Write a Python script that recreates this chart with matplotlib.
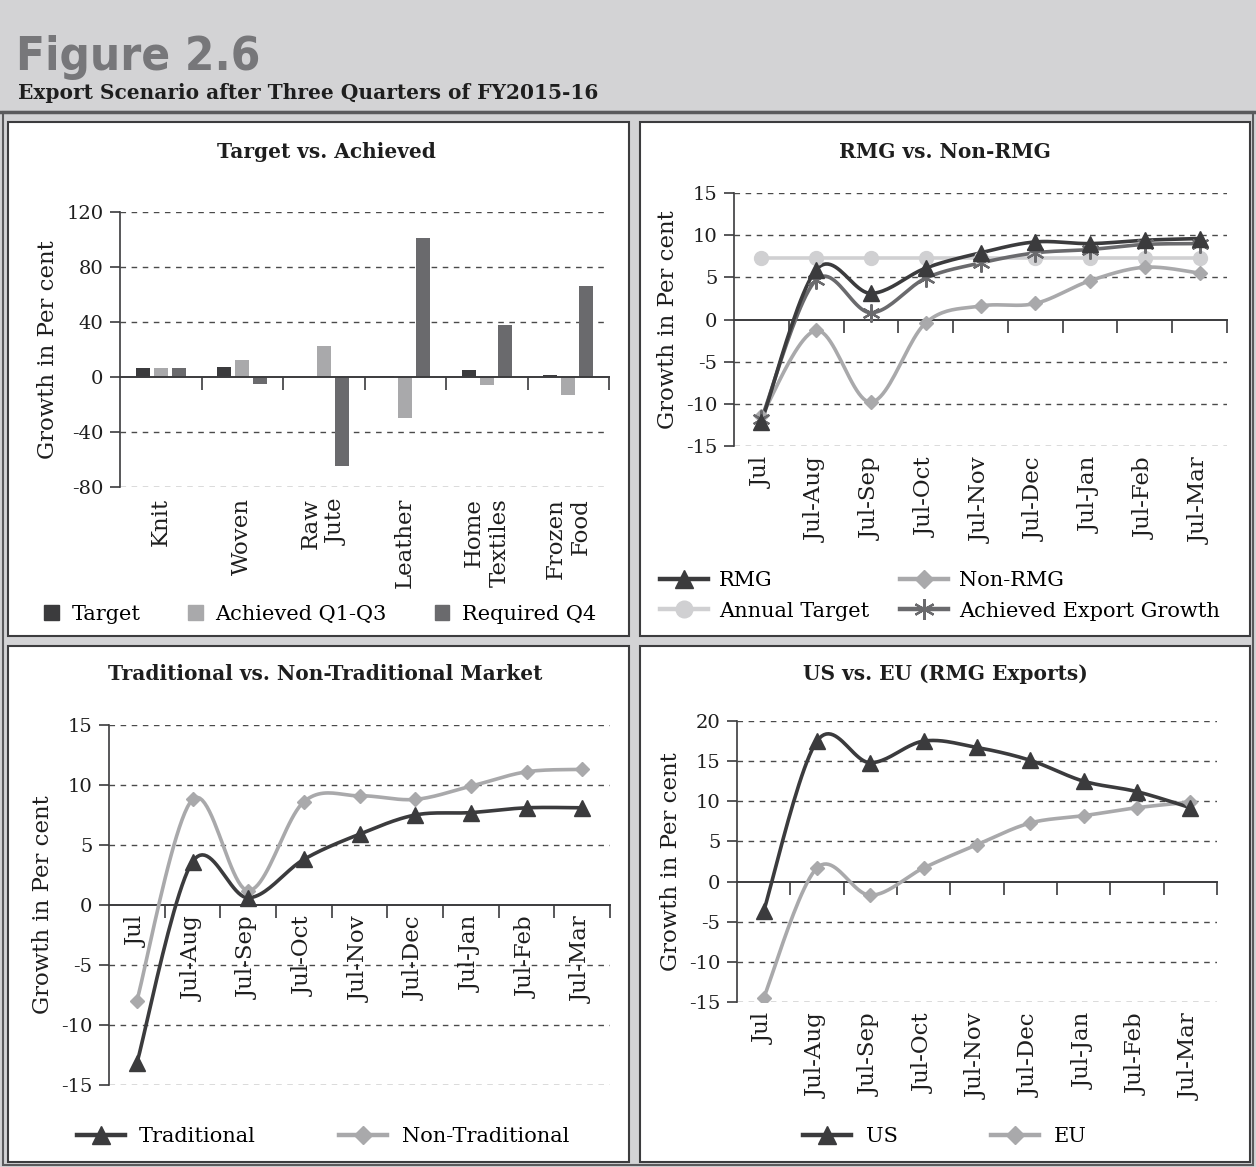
import numpy as np
import matplotlib
matplotlib.use("Agg")
import matplotlib.pyplot as plt
from matplotlib.patches import Rectangle
from matplotlib.lines import Line2D
from matplotlib.patches import Patch

# ---------------- data ----------------
products = ["Knit", "Woven", "Raw\nJute", "Leather", "Home\nTextiles", "Frozen\nFood"]
target = [6.5, 7.5, 0.0, 0.5, 5.0, 1.5]
achieved_q1_q3 = [6.5, 12.0, 22.5, -30.0, -6.0, -13.0]
required_q4 = [6.5, -5.0, -65.0, 101.0, 38.0, 66.0]

periods = ["Jul", "Jul-Aug", "Jul-Sep", "Jul-Oct", "Jul-Nov",
           "Jul-Dec", "Jul-Jan", "Jul-Feb", "Jul-Mar"]

rmg = [-12.2, 5.9, 3.1, 6.1, 7.9, 9.2, 9.0, 9.4, 9.6]
non_rmg = [-11.5, -1.3, -9.8, -0.4, 1.6, 1.9, 4.6, 6.2, 5.5]
annual_target = [7.3, 7.3, 7.3, 7.3, 7.3, 7.3, 7.3, 7.3, 7.3]
achieved_growth = [-11.8, 4.7, 0.8, 4.9, 6.7, 7.9, 8.3, 8.9, 9.0]

traditional = [-13.2, 3.6, 0.6, 3.8, 5.9, 7.5, 7.7, 8.1, 8.1]
non_traditional = [-8.0, 8.8, 1.2, 8.6, 9.1, 8.8, 9.9, 11.1, 11.3]

us = [-3.7, 17.5, 14.8, 17.5, 16.7, 15.1, 12.5, 11.2, 9.2]
eu = [-14.5, 1.7, -1.7, 1.7, 4.6, 7.3, 8.2, 9.2, 9.9]

# ---------------- style ----------------
W, H = 1256, 1167
BG = "#d3d3d5"
DARK = "#3b3b3d"
MID = "#6a6a6d"
LIGHT = "#a9a9ab"
PALE = "#d0d0d2"
GRID = "#4a4a4a"
INK = "#1e1e1e"
TICK_FS = 14
TEXT_FS = 16.5
LEG_FS = 15
TITLE_FS = 14.5

plt.rcParams["font.family"] = ["DejaVu Serif"]

fig = plt.figure(figsize=(W / 100, H / 100), dpi=100)
fig.patch.set_facecolor(BG)


def fx(x):
    return x / W


def fy(y):
    return 1 - y / H


def add_axes_px(x0, y0, x1, y1):
    return fig.add_axes([fx(x0), fy(y1), (x1 - x0) / W, (y1 - y0) / H])


def smooth(xs, ys, n=24):
    """Bezier-smoothed path through the points (Excel-style smoothed line)."""
    xs = np.asarray(xs, float)
    ys = np.asarray(ys, float)
    px, py = [xs[0]], [ys[0]]
    m = len(xs)
    for i in range(m - 1):
        i0 = max(i - 1, 0)
        i3 = min(i + 2, m - 1)
        c1x = xs[i] + (xs[i + 1] - xs[i0]) / 6
        c1y = ys[i] + (ys[i + 1] - ys[i0]) / 6
        c2x = xs[i + 1] - (xs[i3] - xs[i]) / 6
        c2y = ys[i + 1] - (ys[i3] - ys[i]) / 6
        t = np.linspace(0, 1, n)[1:]
        a, b, c, d = (1 - t) ** 3, 3 * (1 - t) ** 2 * t, 3 * (1 - t) * t ** 2, t ** 3
        px.extend(a * xs[i] + b * c1x + c * c2x + d * xs[i + 1])
        py.extend(a * ys[i] + b * c1y + c * c2y + d * ys[i + 1])
    return np.array(px), np.array(py)


# ---------------- header and panel frames ----------------
fig.text(fx(16), fy(70), "Figure 2.6", family=["DejaVu Sans"], fontstretch="condensed",
         fontsize=34, fontweight="bold", color="#77777a", ha="left", va="baseline")
fig.text(fx(18), fy(99), "Export Scenario after Three Quarters of FY2015-16",
         fontsize=14.5, fontweight="bold", color=INK, ha="left", va="baseline")

fig.add_artist(Line2D([fx(0), fx(W)], [fy(112), fy(112)], color="#5a5a5c", lw=2.5))
fig.add_artist(Rectangle((fx(3), fy(1165)), fx(1250), (1165 - 112) / H,
                         transform=fig.transFigure, fill=False, ec="#5a5a5c", lw=1.5))

panels = [(8, 122, 629, 636), (640, 122, 1250, 636),
          (8, 646, 629, 1162), (640, 646, 1250, 1162)]
for (x0, y0, x1, y1) in panels:
    fig.add_artist(Rectangle((fx(x0), fy(y1)), (x1 - x0) / W, (y1 - y0) / H,
                             transform=fig.transFigure, fc="white", ec="#3c3c3e",
                             lw=1.5, zorder=0))


def style_axes(ax, ylim, yticks, ncat, ylabel):
    ax.set_facecolor("none")
    ax.set_xlim(-0.5, ncat - 0.5)
    ax.set_ylim(*ylim)
    ax.set_yticks(yticks)
    ax.set_yticklabels([str(v) for v in yticks], fontsize=TICK_FS, color=INK)
    for s in ("top", "right"):
        ax.spines[s].set_visible(False)
    ax.spines["left"].set_color(DARK)
    ax.spines["left"].set_linewidth(1.2)
    ax.spines["bottom"].set_position(("data", 0))
    ax.spines["bottom"].set_color(DARK)
    ax.spines["bottom"].set_linewidth(1.4)
    ax.set_xticks(np.arange(ncat) + 0.5)
    ax.set_xticklabels([])
    ax.tick_params(axis="x", direction="out", length=9, width=1.2, color=DARK)
    ax.tick_params(axis="y", direction="out", length=7, width=1.2, color=DARK, pad=5)
    for v in yticks:
        if v != 0:
            ax.axhline(v, color=GRID, lw=1.0, ls=(0, (4, 4)), zorder=0.5)
    ax.set_ylabel(ylabel, fontsize=TEXT_FS, color=INK, labelpad=5)


def cat_labels(ax, labels, at_axis=False):
    for i, lab in enumerate(labels):
        if at_axis:
            ax.annotate(lab, xy=(i, 0), xycoords="data", xytext=(0, -8),
                        textcoords="offset points", rotation=90, ha="center",
                        va="top", multialignment="right", fontsize=TEXT_FS,
                        color=INK, annotation_clip=False)
        else:
            ax.annotate(lab, xy=(i, 0), xycoords=("data", "axes fraction"),
                        xytext=(0, -8), textcoords="offset points", rotation=90,
                        ha="center", va="top", multialignment="right",
                        fontsize=TEXT_FS, color=INK, annotation_clip=False)


def line_series(ax, values, color, marker, ms, mew=1.0, lw=2.6):
    xs = np.arange(len(values))
    sx, sy = smooth(xs, values)
    ax.plot(sx, sy, color=color, lw=lw, zorder=3, solid_capstyle="round")
    ax.plot(xs, values, ls="none", marker=marker, ms=ms,
            mfc=color, mec=color, mew=mew, zorder=4)
    return Line2D([], [], color=color, lw=lw + 0.6, marker=marker, ms=ms + 2,
                  mfc=color, mec=color, mew=mew)


# ---------------- panel 1: Target vs. Achieved ----------------
ax1 = add_axes_px(120, 212, 609, 487)
style_axes(ax1, (-80, 120), [-80, -40, 0, 40, 80, 120], len(products), "Growth in Per cent")
xc = np.arange(len(products))
bw, off = 0.17, 0.22
ax1.bar(xc - off, target, bw, color=DARK, zorder=2)
ax1.bar(xc, achieved_q1_q3, bw, color=LIGHT, zorder=2)
ax1.bar(xc + off, required_q4, bw, color=MID, zorder=2)
cat_labels(ax1, products)
fig.text(fx(326), fy(152), "Target vs. Achieved", fontsize=TITLE_FS, fontweight="bold",
         ha="center", va="center", color=INK)
fig.legend([Patch(color=DARK), Patch(color=LIGHT), Patch(color=MID)],
           ["Target", "Achieved Q1-Q3", "Required Q4"], ncol=3, frameon=False,
           loc="center", bbox_to_anchor=(fx(320), fy(614)), fontsize=LEG_FS,
           handlelength=0.7, handleheight=0.7, handletextpad=0.6, columnspacing=2.3)

# ---------------- panel 2: RMG vs. Non-RMG ----------------
ax2 = add_axes_px(734, 193, 1227, 446)
style_axes(ax2, (-15, 15), [-15, -10, -5, 0, 5, 10, 15], len(periods), "Growth in Per cent")
h_at = line_series(ax2, annual_target, PALE, "o", 10)
h_nr = line_series(ax2, non_rmg, LIGHT, "D", 7.5)
h_ac = line_series(ax2, achieved_growth, MID, (6, 2, 0), 13, mew=1.6)
h_rmg = line_series(ax2, rmg, DARK, "^", 11)
cat_labels(ax2, periods)
fig.text(fx(945), fy(152), "RMG vs. Non-RMG", fontsize=TITLE_FS, fontweight="bold",
         ha="center", va="center", color=INK)
fig.legend([h_rmg, h_at, h_nr, h_ac],
           ["RMG", "Annual Target", "Non-RMG", "Achieved Export Growth"],
           ncol=2, frameon=False, loc="center", bbox_to_anchor=(fx(940), fy(596)),
           fontsize=LEG_FS, handlelength=2.3, handletextpad=0.5, columnspacing=1.5,
           labelspacing=0.55)

# ---------------- panel 3: Traditional vs. Non-Traditional ----------------
ax3 = add_axes_px(109, 725, 610, 1085)
style_axes(ax3, (-15, 15), [-15, -10, -5, 0, 5, 10, 15], len(periods), "Growth in Per cent")
h_nt = line_series(ax3, non_traditional, LIGHT, "D", 7.5)
h_t = line_series(ax3, traditional, DARK, "^", 11)
cat_labels(ax3, periods, at_axis=True)
fig.text(fx(325), fy(674), "Traditional vs. Non-Traditional Market", fontsize=TITLE_FS,
         fontweight="bold", ha="center", va="center", color=INK)
fig.legend([h_t, h_nt], ["Traditional", "Non-Traditional"], ncol=2, frameon=False,
           loc="center", bbox_to_anchor=(fx(323), fy(1137)), fontsize=LEG_FS,
           handlelength=2.3, handletextpad=0.7, columnspacing=4.0)

# ---------------- panel 4: US vs. EU ----------------
ax4 = add_axes_px(737, 721, 1217, 1002)
style_axes(ax4, (-15, 20), [-15, -10, -5, 0, 5, 10, 15, 20], len(periods), "Growth in Per cent")
h_eu = line_series(ax4, eu, LIGHT, "D", 7.5)
h_us = line_series(ax4, us, DARK, "^", 11)
cat_labels(ax4, periods)
fig.text(fx(945), fy(674), "US vs. EU (RMG Exports)", fontsize=TITLE_FS,
         fontweight="bold", ha="center", va="center", color=INK)
fig.legend([h_us, h_eu], ["US", "EU"], ncol=2, frameon=False,
           loc="center", bbox_to_anchor=(fx(945), fy(1137)), fontsize=LEG_FS,
           handlelength=2.3, handletextpad=0.7, columnspacing=4.5)

fig.savefig("out.png", dpi=100, facecolor=BG)
